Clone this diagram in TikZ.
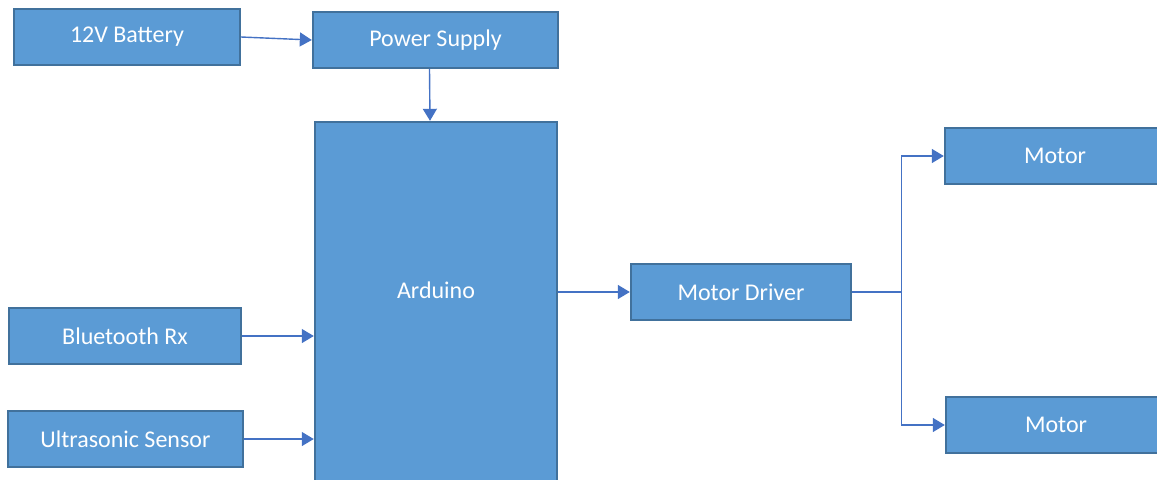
\documentclass[tikz,border=0pt]{standalone}
\usepackage{fontspec}
\setmainfont{Carlito}
\usetikzlibrary{arrows.meta}
\definecolor{boxfill}{HTML}{5B9BD5}
\definecolor{boxline}{HTML}{41719C}
\definecolor{wire}{HTML}{4472C4}

\begin{document}
\begin{tikzpicture}[
    x=0.5pt,y=-0.5pt,
    box/.style={draw=boxline,line width=1.2pt,fill=boxfill,
                text=white,minimum height=28pt,inner sep=2pt,
                font=\fontsize{12}{14}\selectfont},
    arrow/.style={-{Triangle[length=6pt,width=7pt]},
                  draw=wire,line width=0.7pt},
  ]
    \useasboundingbox (0,0) rectangle (1157,479);
    \clip (0,0) rectangle (1157,479);

    % power path
    \node[box,minimum width=113pt]   (bat) at (127,37)   {12V Battery};
    \node[box,minimum width=122.5pt] (psu) at (435.5,40) {Power Supply};

    % controller
    \node[box,minimum width=121pt,minimum height=185pt,
          text depth=16.6pt] (ard) at (436,307) {Arduino};

    % inputs
    \node[box,minimum width=116pt]   (bt) at (125,336)   {Bluetooth Rx};
    \node[box,minimum width=117.5pt] (us) at (125.5,439) {Ultrasonic Sensor};

    % outputs
    \node[box,minimum width=110pt] (drv) at (741,292)  {Motor Driver};
    \node[box,minimum width=110pt] (m1)  at (1055,156) {Motor};
    \node[box,minimum width=110pt] (m2)  at (1056,425) {Motor};
    \path (drv.east) -- ++(49,0) coordinate (split);

    % Arrows
    \draw[arrow] (bat.east) -- (psu.west);
    \draw[arrow] ([xshift=-3pt]psu.south) -- ([xshift=-3pt]ard.north);
    \draw[arrow] (bt.east) -- (bt.east -| ard.west);
    \draw[arrow] (us.east) -- (us.east -| ard.west);
    \draw[arrow] (ard.east |- drv.west) -- (drv.west);
    \draw[arrow] (drv.east) -- (split) |- (m1.west);
    \draw[arrow] (split) |- (m2.west);

\end{tikzpicture}
\end{document}
